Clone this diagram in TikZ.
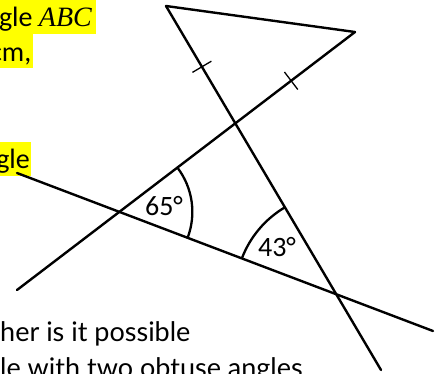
\documentclass[tikz,border=0pt]{standalone}
\usepackage{fontspec}
\setmainfont{Carlito}
\newfontfamily\gillish{Lato}
\newfontfamily\mathish{Liberation Serif}
\usetikzlibrary{calc}
\definecolor{hl}{HTML}{FFFF00}
\begin{document}
\begin{tikzpicture}[x=1pt,y=1pt,
  geo/.style={line width=2.4pt, line cap=round},
  tickmark/.style={line width=1.3pt},
  anglearc/.style={line width=2.3pt},
  lbl/.style={font=\fontsize{28}{32}\selectfont, inner sep=0pt},
  toptxt/.style={font=\fontsize{28}{34}\selectfont, inner sep=0pt, anchor=base east},
  bottxt/.style={font=\gillish\fontsize{27}{32}\selectfont, inner sep=0pt}]
\useasboundingbox (0,0) rectangle (441,-374);
\clip (0,0) rectangle (441,-374);
% highlighted text fragments
\fill[hl] (0,0) rectangle (96,-34);
\fill[hl] (0,-34) rectangle (33,-68);
\fill[hl] (0,-142) rectangle (31,-176);
\node[toptxt] (t1) at (92,-27) {gle {\mathish\itshape ABC}};
\node[toptxt] (t2) at (31.5,-62) {cm,};
\node[toptxt] (t3) at (30,-168) {gle};
\node[bottxt, anchor=base west] (b1) at (0,-341) {her is it possible};
\node[bottxt, anchor=base west] (b2) at (0,-377) {le with two obtuse angles};
% line end points
\coordinate (A) at (166,-6);
\coordinate (B) at (355,-32);
\coordinate (N2) at (381,-370);
\coordinate (M1) at (17,-290);
\coordinate (L1) at (17,-173);
\coordinate (L2) at (433,-331);
\coordinate (P1) at (intersection of L1--L2 and M1--B);
\coordinate (P2) at (intersection of L1--L2 and A--N2);
% lines
\draw[geo] (A) -- (B);
\draw[geo] (A) -- (N2);
\draw[geo] (M1) -- (B);
\draw[geo] (L1) -- (L2);
% equal-length tick marks
\coordinate (tn) at ($(A)!0.167!(N2)$);
\coordinate (tm) at ($(M1)!0.811!(B)$);
\draw[tickmark] ($(tn)!11pt!90:(N2)$) -- ($(tn)!11pt!-90:(N2)$);
\draw[tickmark] ($(tm)!11pt!90:(B)$) -- ($(tm)!11pt!-90:(B)$);
% angle arcs
\draw[anglearc] ($(P1)+(-20.8:73pt)$) arc[start angle=-20.8, end angle=37.4, radius=73pt];
\draw[anglearc] ($(P2)+(120.6:101pt)$) arc[start angle=120.6, end angle=159.2, radius=101pt];
\node[lbl] (a65) at (164,-206) {65°};
\node[lbl] (a43) at (277,-247) {43°};
\end{tikzpicture}
\end{document}
